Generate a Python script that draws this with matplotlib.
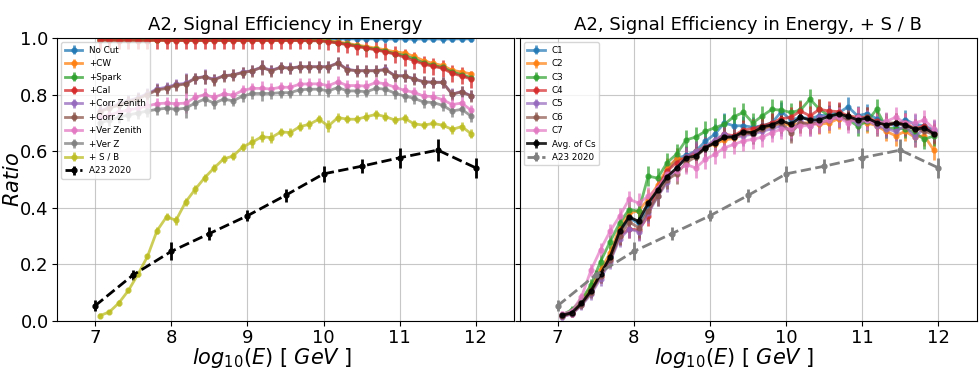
import numpy as np
import matplotlib
matplotlib.use("Agg")
import matplotlib.pyplot as plt

# ---------------- data ----------------
bin_edges = np.linspace(7.0, 12.0, 41)
x_bins = 0.5 * (bin_edges[:-1] + bin_edges[1:])

x_a23 = [7.0, 7.5, 8.0, 8.5, 9.0, 9.5, 10.0, 10.5, 11.0, 11.5, 12.0]
a23 = [0.054, 0.163, 0.246, 0.309, 0.372, 0.444, 0.520, 0.547, 0.577, 0.604, 0.541]
a23_err = [0.020, 0.018, 0.032, 0.022, 0.020, 0.022, 0.028, 0.025, 0.035, 0.040, 0.035]

no_cut = [0.997, 0.997, 0.997, 0.998, 0.997, 0.997, 0.998, 0.997, 0.997, 0.997,
          0.997, 0.998, 0.997, 0.997, 0.997, 0.997, 0.998, 0.997, 0.997, 0.997,
          0.997, 0.997, 0.997, 0.997, 0.997, 0.997, 0.997, 0.997, 0.997, 0.997,
          0.996, 0.997, 0.997, 0.996, 0.997, 0.997, 0.996, 0.997, 0.997, 0.997]
cw = [0.994, 0.994, 0.993, 0.994, 0.993, 0.993, 0.994, 0.993, 0.993, 0.993,
      0.993, 0.993, 0.993, 0.993, 0.993, 0.993, 0.993, 0.993, 0.993, 0.993,
      0.993, 0.993, 0.993, 0.993, 0.990, 0.986, 0.981, 0.975, 0.970, 0.964,
      0.958, 0.951, 0.947, 0.935, 0.920, 0.910, 0.903, 0.886, 0.880, 0.873]
spark = [0.993, 0.993, 0.992, 0.993, 0.992, 0.992, 0.993, 0.992, 0.992, 0.992,
         0.992, 0.992, 0.992, 0.992, 0.992, 0.992, 0.992, 0.992, 0.992, 0.992,
         0.992, 0.992, 0.991, 0.991, 0.988, 0.983, 0.978, 0.972, 0.966, 0.960,
         0.953, 0.945, 0.938, 0.926, 0.912, 0.903, 0.896, 0.880, 0.870, 0.860]
cal = [0.992, 0.992, 0.991, 0.992, 0.991, 0.991, 0.992, 0.991, 0.991, 0.991,
       0.991, 0.991, 0.991, 0.991, 0.991, 0.991, 0.991, 0.991, 0.991, 0.991,
       0.991, 0.991, 0.990, 0.990, 0.987, 0.982, 0.976, 0.970, 0.964, 0.958,
       0.951, 0.943, 0.932, 0.920, 0.908, 0.900, 0.893, 0.875, 0.866, 0.855]
corr_zenith = [0.743, 0.755, 0.766, 0.778, 0.789, 0.803, 0.820, 0.826, 0.836, 0.840,
               0.858, 0.864, 0.854, 0.867, 0.870, 0.879, 0.885, 0.897, 0.886, 0.897,
               0.894, 0.899, 0.899, 0.899, 0.899, 0.912, 0.889, 0.885, 0.885, 0.885,
               0.889, 0.867, 0.867, 0.856, 0.846, 0.844, 0.844, 0.802, 0.811, 0.796]
corr_z = [0.740, 0.752, 0.763, 0.775, 0.785, 0.800, 0.816, 0.822, 0.833, 0.837,
          0.857, 0.863, 0.852, 0.866, 0.869, 0.878, 0.884, 0.896, 0.884, 0.896,
          0.893, 0.898, 0.898, 0.898, 0.898, 0.911, 0.888, 0.884, 0.884, 0.884,
          0.888, 0.866, 0.866, 0.855, 0.845, 0.843, 0.843, 0.801, 0.810, 0.795]
ver_zenith = [0.720, 0.728, 0.738, 0.746, 0.752, 0.760, 0.768, 0.770, 0.768, 0.770,
              0.790, 0.800, 0.790, 0.803, 0.798, 0.815, 0.822, 0.822, 0.820, 0.826,
              0.826, 0.837, 0.838, 0.838, 0.832, 0.845, 0.832, 0.832, 0.830, 0.843,
              0.838, 0.826, 0.815, 0.808, 0.795, 0.793, 0.782, 0.765, 0.770, 0.745]
ver_z = [0.700, 0.710, 0.720, 0.728, 0.735, 0.742, 0.748, 0.752, 0.748, 0.752,
         0.770, 0.784, 0.770, 0.784, 0.778, 0.795, 0.804, 0.804, 0.804, 0.807,
         0.807, 0.817, 0.819, 0.819, 0.813, 0.825, 0.813, 0.813, 0.810, 0.822,
         0.819, 0.805, 0.795, 0.787, 0.774, 0.772, 0.762, 0.742, 0.748, 0.724]
s_over_b = [0.019, 0.032, 0.064, 0.108, 0.165, 0.228, 0.319, 0.368, 0.356, 0.420,
            0.465, 0.506, 0.541, 0.573, 0.583, 0.615, 0.632, 0.651, 0.648, 0.668,
            0.666, 0.687, 0.695, 0.713, 0.689, 0.719, 0.713, 0.713, 0.722, 0.730,
            0.722, 0.710, 0.716, 0.697, 0.692, 0.698, 0.692, 0.677, 0.687, 0.662]

err_top = [0.004] * 40
err_cal = [0.030] * 40
err_nocut = [0.012] * 40
err_mid = [0.020, 0.020, 0.020, 0.020, 0.020, 0.020, 0.020, 0.020, 0.020, 0.035,
           0.020, 0.025, 0.020, 0.020, 0.020, 0.020, 0.020, 0.025, 0.020, 0.020,
           0.020, 0.020, 0.020, 0.020, 0.020, 0.022, 0.020, 0.020, 0.020, 0.020,
           0.020, 0.020, 0.022, 0.020, 0.020, 0.020, 0.020, 0.020, 0.020, 0.020]
err_sb = [0.008, 0.008, 0.010, 0.010, 0.010, 0.010, 0.012, 0.012, 0.015, 0.015,
          0.015, 0.015, 0.015, 0.015, 0.015, 0.015, 0.020, 0.020, 0.020, 0.015,
          0.015, 0.015, 0.015, 0.015, 0.020, 0.015, 0.015, 0.015, 0.015, 0.015,
          0.015, 0.015, 0.015, 0.015, 0.015, 0.015, 0.015, 0.015, 0.015, 0.015]

left_labels = ["No Cut", "+CW", "+Spark", "+Cal", "+Corr Zenith", "+Corr Z",
               "+Ver Zenith", "+Ver Z", "+ S / B"]

c1 = [0.020, 0.030, 0.060, 0.105, 0.165, 0.225, 0.315, 0.365, 0.345, 0.400,
      0.470, 0.530, 0.575, 0.585, 0.600, 0.635, 0.660, 0.700, 0.690, 0.690,
      0.685, 0.690, 0.700, 0.740, 0.710, 0.720, 0.715, 0.725, 0.730, 0.735,
      0.757, 0.725, 0.733, 0.715, 0.700, 0.690, 0.712, 0.695, 0.690, 0.675]
c2 = [0.020, 0.032, 0.070, 0.120, 0.180, 0.240, 0.330, 0.380, 0.390, 0.430,
      0.480, 0.540, 0.575, 0.570, 0.600, 0.615, 0.625, 0.640, 0.645, 0.660,
      0.670, 0.680, 0.690, 0.700, 0.690, 0.700, 0.700, 0.695, 0.700, 0.715,
      0.720, 0.705, 0.700, 0.690, 0.670, 0.655, 0.670, 0.650, 0.655, 0.604]
c3 = [0.022, 0.040, 0.075, 0.127, 0.210, 0.280, 0.346, 0.394, 0.388, 0.512,
      0.505, 0.560, 0.590, 0.640, 0.650, 0.670, 0.683, 0.695, 0.722, 0.737,
      0.700, 0.725, 0.748, 0.745, 0.737, 0.745, 0.784, 0.748, 0.725, 0.730,
      0.712, 0.689, 0.705, 0.748, 0.683, 0.680, 0.680, 0.666, 0.642, 0.654]
c4 = [0.018, 0.025, 0.060, 0.105, 0.160, 0.220, 0.300, 0.325, 0.322, 0.370,
      0.470, 0.530, 0.560, 0.580, 0.595, 0.615, 0.635, 0.660, 0.655, 0.675,
      0.680, 0.690, 0.700, 0.715, 0.720, 0.742, 0.725, 0.748, 0.742, 0.740,
      0.725, 0.720, 0.720, 0.705, 0.690, 0.700, 0.700, 0.680, 0.690, 0.665]
c5 = [0.015, 0.025, 0.055, 0.095, 0.150, 0.210, 0.290, 0.325, 0.316, 0.380,
      0.440, 0.490, 0.540, 0.580, 0.600, 0.615, 0.640, 0.660, 0.650, 0.655,
      0.660, 0.670, 0.680, 0.690, 0.672, 0.705, 0.690, 0.720, 0.725, 0.720,
      0.715, 0.700, 0.710, 0.690, 0.680, 0.670, 0.690, 0.650, 0.680, 0.670]
c6 = [0.018, 0.028, 0.058, 0.100, 0.160, 0.215, 0.300, 0.350, 0.330, 0.390,
      0.440, 0.500, 0.520, 0.560, 0.580, 0.610, 0.630, 0.650, 0.650, 0.665,
      0.660, 0.680, 0.690, 0.700, 0.665, 0.700, 0.695, 0.700, 0.710, 0.720,
      0.710, 0.715, 0.720, 0.700, 0.700, 0.700, 0.690, 0.680, 0.670, 0.660]
c7 = [0.025, 0.035, 0.085, 0.180, 0.252, 0.317, 0.370, 0.430, 0.417, 0.440,
      0.470, 0.520, 0.530, 0.553, 0.541, 0.571, 0.589, 0.612, 0.624, 0.636,
      0.642, 0.650, 0.666, 0.678, 0.680, 0.690, 0.690, 0.700, 0.710, 0.720,
      0.700, 0.720, 0.710, 0.700, 0.705, 0.720, 0.700, 0.700, 0.710, 0.680]
avg_cs = [0.020, 0.030, 0.062, 0.107, 0.166, 0.226, 0.317, 0.368, 0.352, 0.417,
          0.462, 0.510, 0.541, 0.577, 0.583, 0.612, 0.630, 0.649, 0.651, 0.669,
          0.666, 0.686, 0.693, 0.708, 0.695, 0.720, 0.710, 0.711, 0.723, 0.732,
          0.723, 0.711, 0.717, 0.701, 0.693, 0.699, 0.694, 0.677, 0.683, 0.662]
err_c = [0.010, 0.012, 0.015, 0.020, 0.025, 0.025, 0.030, 0.030, 0.035, 0.035,
         0.035, 0.035, 0.035, 0.035, 0.035, 0.035, 0.035, 0.035, 0.035, 0.035,
         0.035, 0.035, 0.035, 0.035, 0.035, 0.035, 0.035, 0.035, 0.035, 0.035,
         0.035, 0.035, 0.035, 0.035, 0.035, 0.035, 0.035, 0.035, 0.035, 0.035]
err_avg = [0.008, 0.008, 0.010, 0.012, 0.012, 0.012, 0.015, 0.015, 0.015, 0.015,
           0.015, 0.015, 0.015, 0.015, 0.015, 0.015, 0.015, 0.015, 0.015, 0.015,
           0.015, 0.015, 0.015, 0.015, 0.015, 0.015, 0.015, 0.015, 0.015, 0.015,
           0.015, 0.015, 0.015, 0.015, 0.015, 0.015, 0.015, 0.015, 0.015, 0.015]
right_labels = ["C1", "C2", "C3", "C4", "C5", "C6", "C7"]

tab = plt.get_cmap("tab10").colors

# ---------------- figure ----------------
fig = plt.figure(figsize=(9.8, 3.79), dpi=100)
ax1 = fig.add_axes([0.0582, 0.153, 0.4663, 0.7467])
ax2 = fig.add_axes([0.5302, 0.153, 0.4663, 0.7467], sharey=ax1)

left_series = [no_cut, cw, spark, cal, corr_zenith, corr_z, ver_zenith, ver_z, s_over_b]
left_errs = [err_nocut, err_top, err_top, err_cal, err_mid, err_mid, err_mid, err_mid, err_sb]
for i, (y, e, lab) in enumerate(zip(left_series, left_errs, left_labels)):
    ax1.errorbar(x_bins, y, yerr=e, fmt='o-', color=tab[i], ms=3.5, lw=2,
                 elinewidth=2, alpha=0.75, label=lab)
ax1.errorbar(x_a23, a23, yerr=a23_err, fmt='o--', color='black', ms=3.5, lw=2,
             elinewidth=2, label="A23 2020")

right_series = [c1, c2, c3, c4, c5, c6, c7]
for i, (y, lab) in enumerate(zip(right_series, right_labels)):
    ax2.errorbar(x_bins, y, yerr=err_c, fmt='o-', color=tab[i], ms=3.5, lw=2,
                 elinewidth=2, alpha=0.7, label=lab)
ax2.errorbar(x_bins, avg_cs, yerr=err_avg, fmt='o-', color='black', ms=3.5, lw=2,
             elinewidth=2, alpha=0.85, label="Avg. of Cs")
ax2.errorbar(x_a23, a23, yerr=a23_err, fmt='o--', color='gray', ms=3.5, lw=2,
             elinewidth=2, label="A23 2020")

for ax in (ax1, ax2):
    ax.set_xlim(6.5, 12.5)
    ax.set_ylim(0.0, 1.0)
    ax.set_xticks([7, 8, 9, 10, 11, 12])
    ax.grid(True, color='#b0b0b0', lw=0.8, alpha=0.7)
    ax.tick_params(labelsize=13, length=3.5, pad=2.5)
    ax.set_xlabel(r"$log_{10}(E)$ [ $GeV$ ]", fontsize=15)
    ax.xaxis.set_label_coords(0.47, -0.088)
    ax.legend(loc='upper left', fontsize=6.3)

ax1.set_yticks([0.0, 0.2, 0.4, 0.6, 0.8, 1.0])
ax1.set_ylabel(r"$Ratio$", fontsize=15)
ax1.yaxis.set_label_coords(-0.074, 0.5)
plt.setp(ax2.get_yticklabels(), visible=False)
ax1.set_title("A2, Signal Efficiency in Energy", fontsize=13)
ax2.set_title("A2, Signal Efficiency in Energy, + S / B", fontsize=13)

fig.savefig("out.png", dpi=100)
